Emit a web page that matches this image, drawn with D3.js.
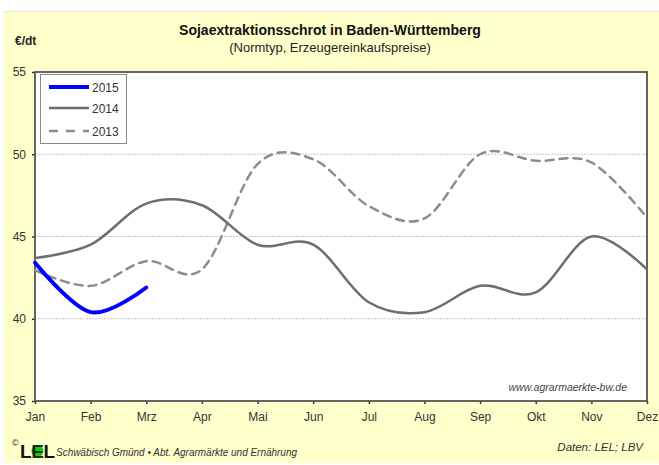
<!DOCTYPE html>
<html><head><meta charset="utf-8">
<script src="https://cdn.jsdelivr.net/npm/d3@7"></script>
<style>body{margin:0;background:#fff}svg{display:block}</style>
</head><body><svg id="c" width="659" height="465"></svg>
<script>
const months = ["Jan","Feb","Mrz","Apr","Mai","Jun","Jul","Aug","Sep","Okt","Nov","Dez"];
const yTicks = [35,40,45,50,55];
const v2015 = [43.4,40.4,41.9];
const v2014 = [43.7,44.5,47.0,46.9,44.5,44.5,41.0,40.4,42.0,41.6,45.0,43.0];
const v2013 = [42.95,42.0,43.5,43.0,49.4,49.7,46.85,46.1,50.0,49.6,49.5,46.15];
const seriesNames = ["2015","2014","2013"];

const svg = d3.select("#c");
const L=35,R=647,T=72,B=401;
svg.append("rect").attr("x",4).attr("y",11).attr("width",655).attr("height",452).attr("fill","#ffffcc");
svg.append("line").attr("x1",4).attr("x2",659).attr("y1",11.5).attr("y2",11.5).attr("stroke","#ece9c8");

const x = d3.scaleLinear().domain([0,11]).range([L,R]);
const y = d3.scaleLinear().domain([35,55]).range([B,T]);

svg.append("rect").attr("x",L).attr("y",T).attr("width",R-L).attr("height",B-T).attr("fill","#fff");
// grid
svg.append("g").selectAll("line").data([40,45,50]).join("line")
  .attr("x1",L).attr("x2",R).attr("y1",d=>y(d)).attr("y2",d=>y(d))
  .attr("stroke","#c8c8c8").attr("stroke-width",1.2).attr("stroke-dasharray","2,1");

const font="Liberation Sans, Arial, sans-serif";
// axes
const ax = svg.append("g").attr("transform",`translate(0,${B})`)
  .call(d3.axisBottom(x).tickValues(d3.range(12)).tickFormat(i=>months[i]).tickSize(3).tickPadding(8));
const ay = svg.append("g").attr("transform",`translate(${L},0)`)
  .call(d3.axisLeft(y).tickValues(yTicks).tickSize(3).tickPadding(6));
[ax,ay].forEach(g=>{
  g.select(".domain").remove();
  g.selectAll("line").attr("stroke","#333").attr("stroke-width",1.5);
  g.selectAll("text").attr("font-family",font).attr("font-size",12).attr("fill","#333");
});
// border
svg.append("rect").attr("x",L).attr("y",T).attr("width",R-L).attr("height",B-T)
  .attr("fill","none").attr("stroke","#555").attr("stroke-width",1.8);

const line = d3.line().x((d,i)=>x(i)).y(d=>y(d)).curve(d3.curveCardinal.tension(0));
const styles = [
  {data:v2015,stroke:"#0000ff",w:4,dash:null},
  {data:v2014,stroke:"#6e6e6e",w:2.5,dash:null},
  {data:v2013,stroke:"#8c8c8c",w:2.5,dash:"8,6"}
];
const plot = svg.append("g");
[styles[2],styles[1],styles[0]].forEach(s=>{
  plot.append("path").attr("d",line(s.data)).attr("fill","none")
    .attr("stroke",s.stroke).attr("stroke-width",s.w).attr("stroke-dasharray",s.dash)
    .attr("stroke-linecap","round");
});

// legend
const lg = svg.append("g");
lg.append("rect").attr("x",40.5).attr("y",74.5).attr("width",86).attr("height",69)
  .attr("fill","#fff").attr("stroke","#8a8a8a").attr("stroke-width",1);
const ly=[87,108,131];
styles.forEach((s,i)=>{
  lg.append("line").attr("x1",49).attr("x2",89).attr("y1",ly[i]).attr("y2",ly[i])
    .attr("stroke",s.stroke).attr("stroke-width",s.w).attr("stroke-dasharray",s.dash?"9,8":null);
  lg.append("text").attr("x",92).attr("y",ly[i]+4.5).text(seriesNames[i])
    .attr("font-family",font).attr("font-size",12).attr("fill","#333");
});

// titles
svg.append("text").attr("x",330).attr("y",35).attr("text-anchor","middle")
  .attr("font-family",font).attr("font-size",14).attr("font-weight","bold").attr("fill","#111")
  .text("Sojaextraktionsschrot in Baden-Württemberg");
svg.append("text").attr("x",330).attr("y",52).attr("text-anchor","middle")
  .attr("font-family",font).attr("font-size",13).attr("fill","#222")
  .text("(Normtyp, Erzeugereinkaufspreise)");
svg.append("text").attr("x",15).attr("y",45)
  .attr("font-family",font).attr("font-size",12).attr("font-weight","bold").attr("fill","#222")
  .text("€/dt");

svg.append("text").attr("x",627).attr("y",391).attr("text-anchor","end")
  .attr("font-family","Liberation Sans Narrow, Arial Narrow, sans-serif").attr("font-style","italic")
  .attr("font-size",10.5).attr("fill","#444").text("www.agrarmaerkte-bw.de");

// footer
svg.append("text").attr("x",12).attr("y",446).attr("font-family",font).attr("font-size",9).attr("fill","#222").text("©");
svg.append("text").attr("x",20).attr("y",458).attr("font-family",font).attr("font-size",19).attr("font-weight","bold").attr("fill","#111").text("L");
svg.append("circle").attr("cx",37.5).attr("cy",451).attr("r",6).attr("fill","#11cc11");
svg.append("text").attr("x",37.5).attr("y",458).attr("text-anchor","middle").attr("font-family",font).attr("font-size",19).attr("font-weight","bold").attr("fill","#111").attr("fill-opacity",0.9).text("E");
svg.append("text").attr("x",43.5).attr("y",458).attr("font-family",font).attr("font-size",19).attr("font-weight","bold").attr("fill","#111").text("L");
svg.append("text").attr("x",56).attr("y",456)
  .attr("font-family","Liberation Sans Narrow, Arial Narrow, sans-serif").attr("font-style","italic")
  .attr("font-size",11.5).attr("fill","#333").attr("textLength",241).attr("lengthAdjust","spacingAndGlyphs")
  .text("Schwäbisch Gmünd • Abt. Agrarmärkte und Ernährung");
svg.append("text").attr("x",643).attr("y",451).attr("text-anchor","end")
  .attr("font-family","Liberation Sans Narrow, Arial Narrow, sans-serif").attr("font-style","italic")
  .attr("font-size",11.5).attr("fill","#333").text("Daten: LEL; LBV");
</script></body></html>
